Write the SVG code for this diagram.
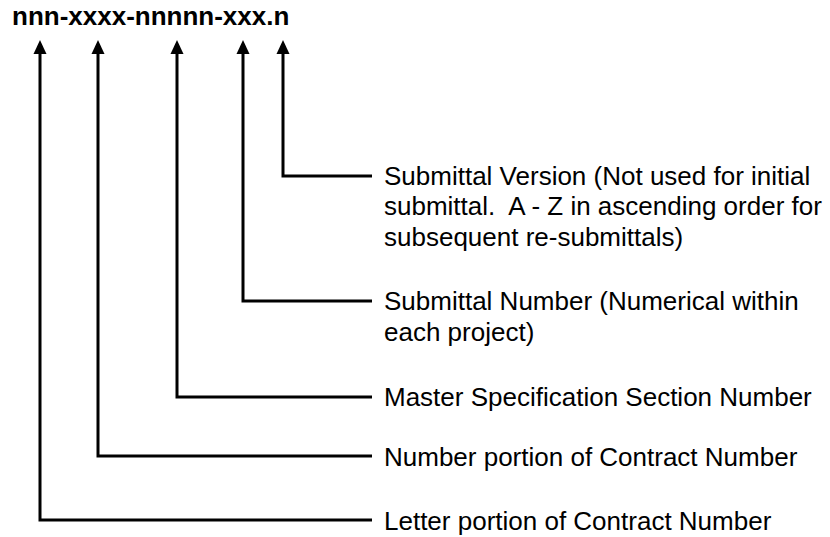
<svg xmlns="http://www.w3.org/2000/svg" width="830" height="537" viewBox="0 0 830 537">
<style>
.t{font-family:"Liberation Sans",Arial,sans-serif;font-size:26px;fill:#000;white-space:pre}
.b{font-weight:bold}
.c{fill:none;stroke:#000;stroke-width:3;stroke-linejoin:miter}
</style>
<rect width="830" height="537" fill="#fff"/>
<g id="title"><text class="t b" x="12" y="25">nnn-xxxx-nnnnn-xxx.n</text></g>
<g id="connectors">
<path class="c" d="M283,44 V176 H372"/>
<path class="c" d="M243,44 V301 H372"/>
<path class="c" d="M177,44 V397 H372"/>
<path class="c" d="M98,44 V456 H372"/>
<path class="c" d="M40,44 V520 H372"/>
<g fill="#000">
<path d="M283,40 L276.5,54 L289.5,54 Z"/>
<path d="M243,40 L236.5,54 L249.5,54 Z"/>
<path d="M177,40 L170.5,54 L183.5,54 Z"/>
<path d="M98,40 L91.5,54 L104.5,54 Z"/>
<path d="M40,40 L33.5,54 L46.5,54 Z"/>
</g>
</g>
<g id="version"><text class="t" x="384" y="185" xml:space="preserve">Submittal Version (Not used for initial</text><text class="t" x="384" y="215" xml:space="preserve">submittal.  A - Z in ascending order for</text><text class="t" x="384" y="246">subsequent re-submittals)</text></g>
<g id="number"><text class="t" x="384" y="310">Submittal Number (Numerical within</text><text class="t" x="384" y="341">each project)</text></g>
<g id="master"><text class="t" x="384" y="406">Master Specification Section Number</text></g>
<g id="numportion"><text class="t" x="384" y="466">Number portion of Contract Number</text></g>
<g id="letter"><text class="t" x="384" y="530">Letter portion of Contract Number</text></g>
</svg>
